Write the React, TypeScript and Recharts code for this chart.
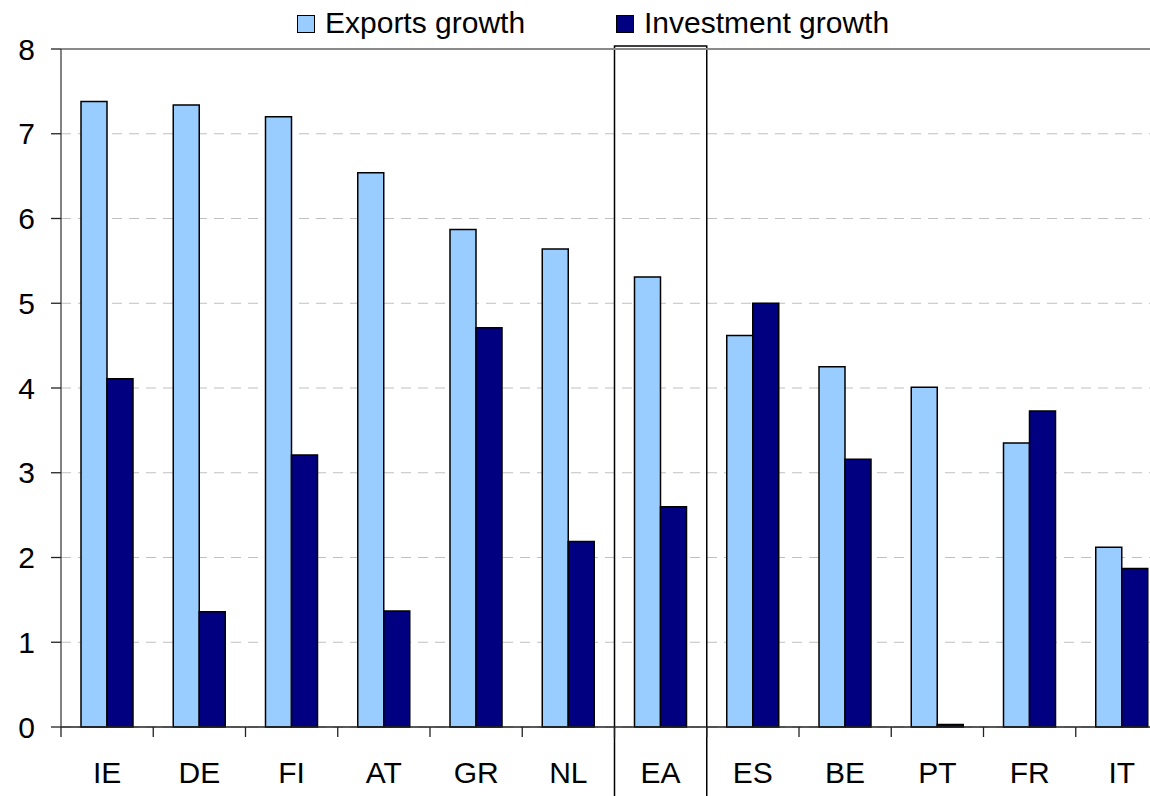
import { BarChart, Bar, XAxis, YAxis, CartesianGrid, ReferenceLine, ReferenceArea } from 'recharts';

// ── Data ──────────────────────────────────────────────────────────────────────

const categories = ['IE', 'DE', 'FI', 'AT', 'GR', 'NL', 'EA', 'ES', 'BE', 'PT', 'FR', 'IT'];
const exportsGrowth = [7.38, 7.34, 7.2, 6.54, 5.87, 5.64, 5.31, 4.62, 4.25, 4.01, 3.35, 2.12];
const investmentGrowth = [4.11, 1.36, 3.21, 1.37, 4.71, 2.19, 2.6, 5.0, 3.16, 0.03, 3.73, 1.87];
const yTicks = [0, 1, 2, 3, 4, 5, 6, 7, 8];
const highlighted = 'EA';

const series = [
  { key: 'exports', name: 'Exports growth', color: '#99CCFF' },
  { key: 'investment', name: 'Investment growth', color: '#000080' },
];

const data = categories.map((c, i) => ({
  name: c,
  exports: exportsGrowth[i],
  investment: investmentGrowth[i],
}));

// ── Layout ────────────────────────────────────────────────────────────────────

const CHART_W = 1175;
const CHART_H = 796;
const MARGIN = { top: 49, right: 7, bottom: 9, left: 0 };
const Y_AXIS_W = 61;
const PLOT_W = CHART_W - MARGIN.left - MARGIN.right - Y_AXIS_W;
const BAND = PLOT_W / categories.length;
const FONT = '"Liberation Sans", Arial, sans-serif';
const LEGEND_X = [297, 616];

// x tick: label at band centre, tick mark at the band's left edge
function CategoryTick(props: any) {
  const { x, y, payload } = props;
  const edge = x - BAND / 2;
  return (
    <g>
      <line x1={edge} y1={y - 10} x2={edge} y2={y} stroke="#222" strokeWidth={1.3} />
      <text x={x} y={y + 46} textAnchor="middle" fontSize={30} fontFamily={FONT} fill="#000">
        {payload.value}
      </text>
    </g>
  );
}

function LegendOverlay() {
  return (
    <>
      {series.map((s, i) => (
        <div key={s.key}>
          <div
            style={{
              position: 'absolute',
              left: LEGEND_X[i],
              top: 15,
              width: 18,
              height: 18,
              boxSizing: 'border-box',
              border: '1.5px solid #000',
              background: s.color,
            }}
          />
          <span
            style={{
              position: 'absolute',
              left: LEGEND_X[i] + 28,
              top: 6,
              fontSize: 30,
              fontFamily: FONT,
              color: '#000',
              whiteSpace: 'nowrap',
            }}
          >
            {s.name}
          </span>
        </div>
      ))}
    </>
  );
}

export default function App() {
  return (
    <div
      style={{
        position: 'absolute',
        left: 0,
        top: 0,
        width: 1150,
        height: 796,
        overflow: 'hidden',
        background: '#fff',
      }}
    >
      <BarChart width={CHART_W} height={CHART_H} data={data} margin={MARGIN} barGap={0} barSize={26}>
        <CartesianGrid horizontal vertical={false} stroke="#c0c0c0" strokeDasharray="10 7" />
        <ReferenceLine y={8} stroke="#8a8a8a" strokeWidth={2} />
        <XAxis
          dataKey="name"
          tick={<CategoryTick />}
          tickLine={false}
          tickSize={10}
          tickMargin={0}
          height={60}
          interval={0}
          axisLine={{ stroke: '#222', strokeWidth: 1.3 }}
        />
        <YAxis
          domain={[0, 8]}
          ticks={yTicks}
          width={Y_AXIS_W}
          tickSize={10}
          tickMargin={16}
          interval={0}
          axisLine={{ stroke: '#404040', strokeWidth: 1.3 }}
          tickLine={{ stroke: '#222', strokeWidth: 1.3 }}
          tick={{ fontSize: 30, fontFamily: FONT, fill: '#000' }}
        />
        {series.map((s) => (
          <Bar
            key={s.key}
            dataKey={s.key}
            name={s.name}
            fill={s.color}
            stroke="#000"
            strokeWidth={1.5}
            isAnimationActive={false}
          />
        ))}
        <ReferenceArea
          x1={highlighted}
          x2={highlighted}
          y1={-0.85}
          y2={8.035}
          fill="none"
          fillOpacity={0}
          stroke="#000"
          strokeWidth={1.5}
          ifOverflow="visible"
        />
      </BarChart>
      <LegendOverlay />
    </div>
  );
}
